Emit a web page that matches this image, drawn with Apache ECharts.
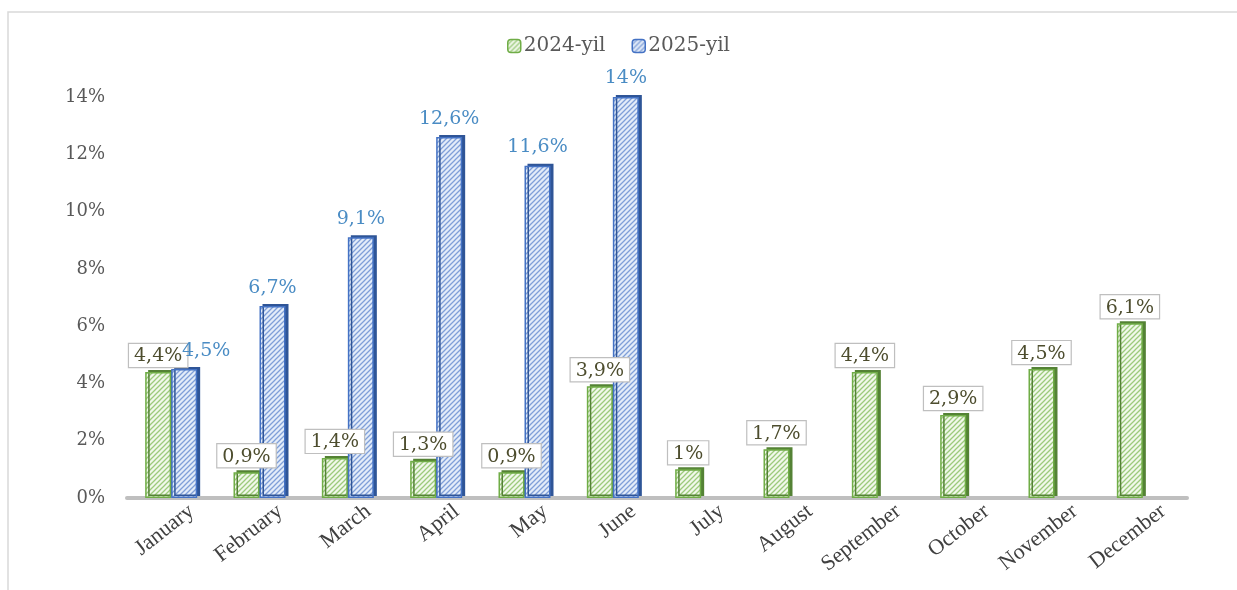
<!DOCTYPE html>
<html><head><meta charset="utf-8">
<script src="https://cdn.jsdelivr.net/npm/echarts@6/dist/echarts.min.js"></script>
<style>html,body{margin:0;padding:0;background:#fff}#c{width:1237px;height:590px}</style>
</head><body><div id="c"></div>
<script>
var categories = ['January','February','March','April','May','June','July','August','September','October','November','December'];
var values2024 = [4.4, 0.9, 1.4, 1.3, 0.9, 3.9, 1, 1.7, 4.4, 2.9, 4.5, 6.1];
var values2025 = [4.5, 6.7, 9.1, 12.6, 11.6, 14, null, null, null, null, null, null];
var seriesNames = ['2024-yil', '2025-yil'];
var yTicks = [0, 2, 4, 6, 8, 10, 12, 14];

function hatch(bg, line) {
  var c = document.createElement('canvas');
  c.width = 5; c.height = 5;
  var g = c.getContext('2d');
  g.fillStyle = bg; g.fillRect(0, 0, 5, 5);
  g.strokeStyle = line; g.lineWidth = 1.3;
  g.beginPath();
  g.moveTo(0, 5); g.lineTo(5, 0);
  g.moveTo(-2.5, 2.5); g.lineTo(2.5, -2.5);
  g.moveTo(2.5, 7.5); g.lineTo(7.5, 2.5);
  g.stroke();
  return {image: c, repeat: 'repeat'};
}
var greenFill = hatch('#f1f8ea', '#9cca7c');
var blueFill = hatch('#e3ecf9', '#7f9fd8');

function fmt(v) { return String(v).replace('.', ',') + '%'; }

var data2025 = values2025.map(function (v, i) {
  return i === 0 ? {value: v, label: {offset: [22, 0]}} : v;
});

var chart = echarts.init(document.getElementById('c'));
chart.setOption({
  animation: false,
  graphic: [{type: 'rect', shape: {x: 8, y: 12, width: 1240, height: 600}, style: {fill: 'none', stroke: '#d9d9d9', lineWidth: 1.5}, silent: true}],
  legend: {
    top: 31, left: 'center', itemWidth: 13, itemHeight: 13, itemGap: 26,
    textStyle: {fontFamily: 'DejaVu Serif', fontSize: 20, color: '#595959', padding: [0, 0, 0, -2]},
    data: [
      {name: seriesNames[0], itemStyle: {color: greenFill, borderColor: '#70ad47', borderWidth: 1.5}},
      {name: seriesNames[1], itemStyle: {color: blueFill, borderColor: '#4472c4', borderWidth: 1.5}}
    ]
  },
  grid: {left: 127, right: 50, top: 97, bottom: 92},
  xAxis: {
    type: 'category', data: categories,
    axisLine: {lineStyle: {color: '#bfbfbf', width: 4}},
    axisTick: {show: false},
    axisLabel: {rotate: 38, interval: 0, margin: 27, fontFamily: 'Liberation Serif', fontSize: 22, color: '#404040',
      padding: [0, -26, 0, 0]}
  },
  yAxis: {
    type: 'value', min: 0, max: 14, interval: 2,
    splitLine: {show: false},
    axisLabel: {fontFamily: 'DejaVu Serif', fontSize: 18, color: '#595959', margin: 22,
      formatter: function (v) { return yTicks.indexOf(v) >= 0 ? v + '%' : ''; }}
  },
  series: [
    {
      name: seriesNames[0], type: 'bar', data: values2024, barWidth: 26, barGap: '0%',
      itemStyle: {color: greenFill, borderColor: '#70ad47', borderWidth: 1.5,
        shadowColor: '#548235', shadowOffsetX: 3, shadowOffsetY: -2, shadowBlur: 0},
      label: {show: true, position: 'top', distance: 5, formatter: function (p) { return fmt(p.value); },
        fontFamily: 'DejaVu Serif', fontSize: 19, color: '#4d4d2e',
        backgroundColor: '#ffffff', borderColor: '#bfbfbf', borderWidth: 1.2, padding: [3, 5, 1, 5]}
    },
    {
      name: seriesNames[1], type: 'bar', data: data2025, barWidth: 26,
      itemStyle: {color: blueFill, borderColor: '#4472c4', borderWidth: 1.5,
        shadowColor: '#2f5597', shadowOffsetX: 3, shadowOffsetY: -2, shadowBlur: 0},
      label: {show: true, position: 'top', distance: 9, formatter: function (p) { return p.value == null ? '' : fmt(p.value); },
        fontFamily: 'DejaVu Serif', fontSize: 19, color: '#4a8cc4'}
    }
  ]
});
</script></body></html>
